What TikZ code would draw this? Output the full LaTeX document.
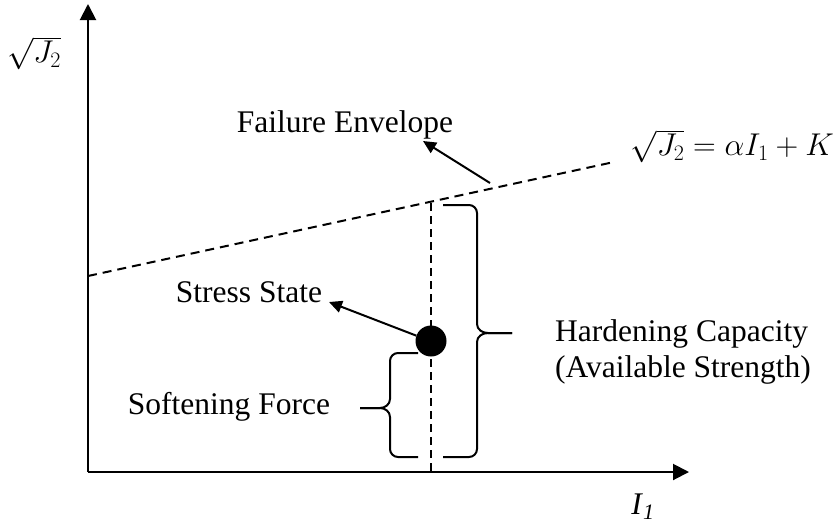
\RequirePackage{fix-cm}
\documentclass[tikz,border=0pt]{standalone}
\usepackage{fontspec}
\setmainfont{Liberation Serif}
\usetikzlibrary{arrows.meta}
\begin{document}
\begin{tikzpicture}[x=1pt,y=-1pt,
  lbl/.style={inner sep=0pt,font=\fontsize{31.5}{36}\selectfont},
  axisline/.style={line width=2pt,-{Triangle[width=16pt,length=16pt]}},
  ptr/.style={line width=2pt,-{Triangle[width=12pt,length=13pt]}},
  envline/.style={line width=2pt,dash pattern=on 9pt off 6pt},
  vline/.style={line width=1.6pt,dash pattern=on 8pt off 5pt},
  bracepath/.style={line width=2pt,line join=round}]
\useasboundingbox (0,0) rectangle (835,531);
% axes
\coordinate (O) at (88,472);
\coordinate (Ytop) at (88,4);
\coordinate (Xend) at (689,472);
\draw[axisline] (O) -- (Ytop);
\draw[axisline] (O) -- (Xend);
\node[lbl] (ylab) at (34,53) {$\sqrt{J_2}$};
\node[lbl] (xlab) at (643,507) {\textit{I}\textsubscript{\textit{1}}};
% failure envelope
\coordinate (E1) at (88,276);
\coordinate (E2) at (614,162);
\draw[envline] (E1) -- (E2);
\node[lbl,anchor=east] (eq) at (834,146) {$\sqrt{J_2}=\mathrm{\alpha} I_1+K$};
\node[lbl] (fe) at (345,125) {Failure Envelope};
\coordinate (FEtail) at (490,183);
\coordinate (FEtip) at (423,141);
\draw[ptr] (FEtail) -- (FEtip);
% vertical line and stress state
\coordinate (Vtop) at (431,203);
\coordinate (Vbot) at (431,472);
\draw[vline] (Vtop) -- (Vbot);
\node[circle,fill=black,inner sep=0pt,minimum width=30pt,minimum height=31pt] (dot) at (431,341) {};
\node[lbl] (ss) at (249,292) {Stress State};
\coordinate (SStip) at (329,302);
\draw[ptr] (dot.160) -- (SStip);
% big brace
\draw[bracepath] (443,205) -- (469,205) to[out=0,in=90] (477,213) -- (477,324)
  to[out=-90,in=180] (488,333) -- (512,333);
\draw[bracepath] (512,333) -- (488,333) to[out=180,in=90] (477,342) -- (477,449)
  to[out=-90,in=0] (469,457) -- (443,457);
\node[lbl,align=left,anchor=west] (hc) at (555,352) {Hardening Capacity\\(Available Strength)};
% small brace
\draw[bracepath] (418,353) -- (398,353) to[out=180,in=90] (390,361) -- (390,399)
  to[out=-90,in=0] (380,408) -- (360,408);
\draw[bracepath] (360,408) -- (380,408) to[out=0,in=90] (390,417) -- (390,449)
  to[out=-90,in=180] (398,457) -- (418,457);
\node[lbl] (sf) at (229,407) {Softening Force};
\end{tikzpicture}
\end{document}
